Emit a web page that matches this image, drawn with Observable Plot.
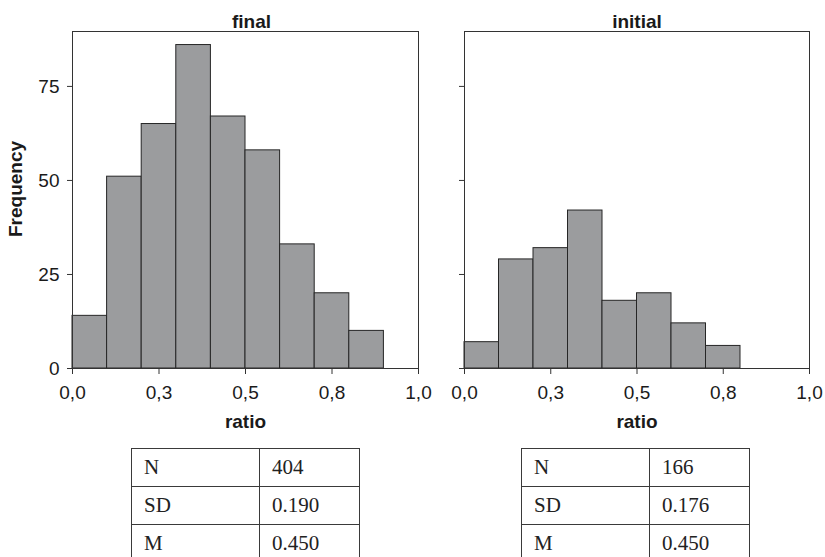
<!DOCTYPE html>
<html><head><meta charset="utf-8">
<script src="https://cdn.jsdelivr.net/npm/d3@7"></script>
<script src="https://cdn.jsdelivr.net/npm/@observablehq/plot@0.6"></script>
<style>
body{margin:0;background:#fff;}
#wrap{position:relative;width:825px;height:557px;overflow:hidden;background:#fff;font-family:"Liberation Sans",Arial,sans-serif;}
.panel{position:absolute;top:0;}
.panel svg{overflow:visible;background:transparent !important;}
table.stats{position:absolute;top:448px;border-collapse:collapse;table-layout:fixed;font-family:"Liberation Serif","Times New Roman",serif;font-size:21px;color:#222;}
table.stats td{border:1px solid #3a3a3a;height:38px;padding:0 0 0 12px;box-sizing:border-box;white-space:nowrap;}
</style>
</head><body>
<div id="wrap">
  <div class="panel" id="p1" style="left:0px"></div>
  <div class="panel" id="p2" style="left:420px"></div>
</div>
<script>
// ---- data ----
const panelTitles = ["final", "initial"];
const binEdges = [0, 0.1, 0.2, 0.3, 0.4, 0.5, 0.6, 0.7, 0.8, 0.9];
const finalCounts = [14, 51, 65, 86, 67, 58, 33, 20, 10];
const initialCounts = [7, 29, 32, 42, 18, 20, 12, 6];
const xTickValues = [0, 0.25, 0.5, 0.75, 1.0];
const xTickLabels = ["0,0", "0,3", "0,5", "0,8", "1,0"];
const yTickValues = [0, 25, 50, 75];
const xLabel = "ratio";
const yLabel = "Frequency";
const statNames = ["N", "SD", "M"];
const finalStats = ["404", "0.190", "0.450"];
const initialStats = ["166", "0.176", "0.450"];

const FS = 19;

function bars(counts) {
  return counts.map((c, i) => ({x1: binEdges[i], x2: binEdges[i + 1], count: c}));
}

function makePanel(title, counts, opts) {
  return Plot.plot({
    width: opts.width,
    height: 440,
    marginLeft: opts.marginLeft,
    marginRight: opts.marginRight,
    marginTop: 31,
    marginBottom: 72,
    style: {fontFamily: '"Liberation Sans", Arial, sans-serif', fontSize: FS + "px", color: "#1a1a1a", background: "transparent", overflow: "visible"},
    x: {domain: [0, 1]},
    y: {domain: [0, 89.6]},
    marks: [
      Plot.rectY(bars(counts), {x1: "x1", x2: "x2", y: "count", fill: "#9b9c9e", stroke: "#262626", strokeWidth: 1}),
      Plot.frame({stroke: "#333"}),
      Plot.axisX({ticks: xTickValues, tickFormat: d => xTickLabels[xTickValues.indexOf(d)], tickSize: 6, tickPadding: 11, fontSize: FS, label: null, stroke: "#333"}),
      Plot.axisY({ticks: yTickValues, tickFormat: opts.yLabels ? (d => String(d)) : (() => ""), tickSize: 5, tickPadding: 8, fontSize: FS, label: null, stroke: "#333"}),
      Plot.text([title], {frameAnchor: "top", lineAnchor: "middle", textAnchor: "middle", dx: opts.titleDx, dy: -10, fontWeight: "bold", fontSize: FS, fill: "#1a1a1a"}),
      Plot.text([xLabel], {frameAnchor: "bottom", lineAnchor: "middle", textAnchor: "middle", dy: 53, fontWeight: "bold", fontSize: FS, fill: "#1a1a1a"}),
      ...(opts.yLabels ? [Plot.text([yLabel], {frameAnchor: "left", lineAnchor: "middle", textAnchor: "middle", dx: -57, dy: -11, rotate: -90, fontWeight: "bold", fontSize: FS, fill: "#1a1a1a"})] : [])
    ]
  });
}

document.getElementById("p1").appendChild(makePanel(panelTitles[0], finalCounts, {width: 440, marginLeft: 72, marginRight: 22, yLabels: true, titleDx: 6}));
document.getElementById("p2").appendChild(makePanel(panelTitles[1], initialCounts, {width: 405, marginLeft: 44, marginRight: 16, yLabels: false, titleDx: 0}));

function makeTable(values, left) {
  const t = document.createElement("table");
  t.className = "stats";
  t.style.left = left + "px";
  t.style.width = "228px";
  statNames.forEach((n, i) => {
    const tr = document.createElement("tr");
    const a = document.createElement("td"); a.textContent = n; a.style.width = "128px";
    const b = document.createElement("td"); b.textContent = values[i]; b.style.width = "100px";
    tr.appendChild(a); tr.appendChild(b); t.appendChild(tr);
  });
  document.getElementById("wrap").appendChild(t);
}
makeTable(finalStats, 131);
makeTable(initialStats, 521);
</script>
</body></html>
